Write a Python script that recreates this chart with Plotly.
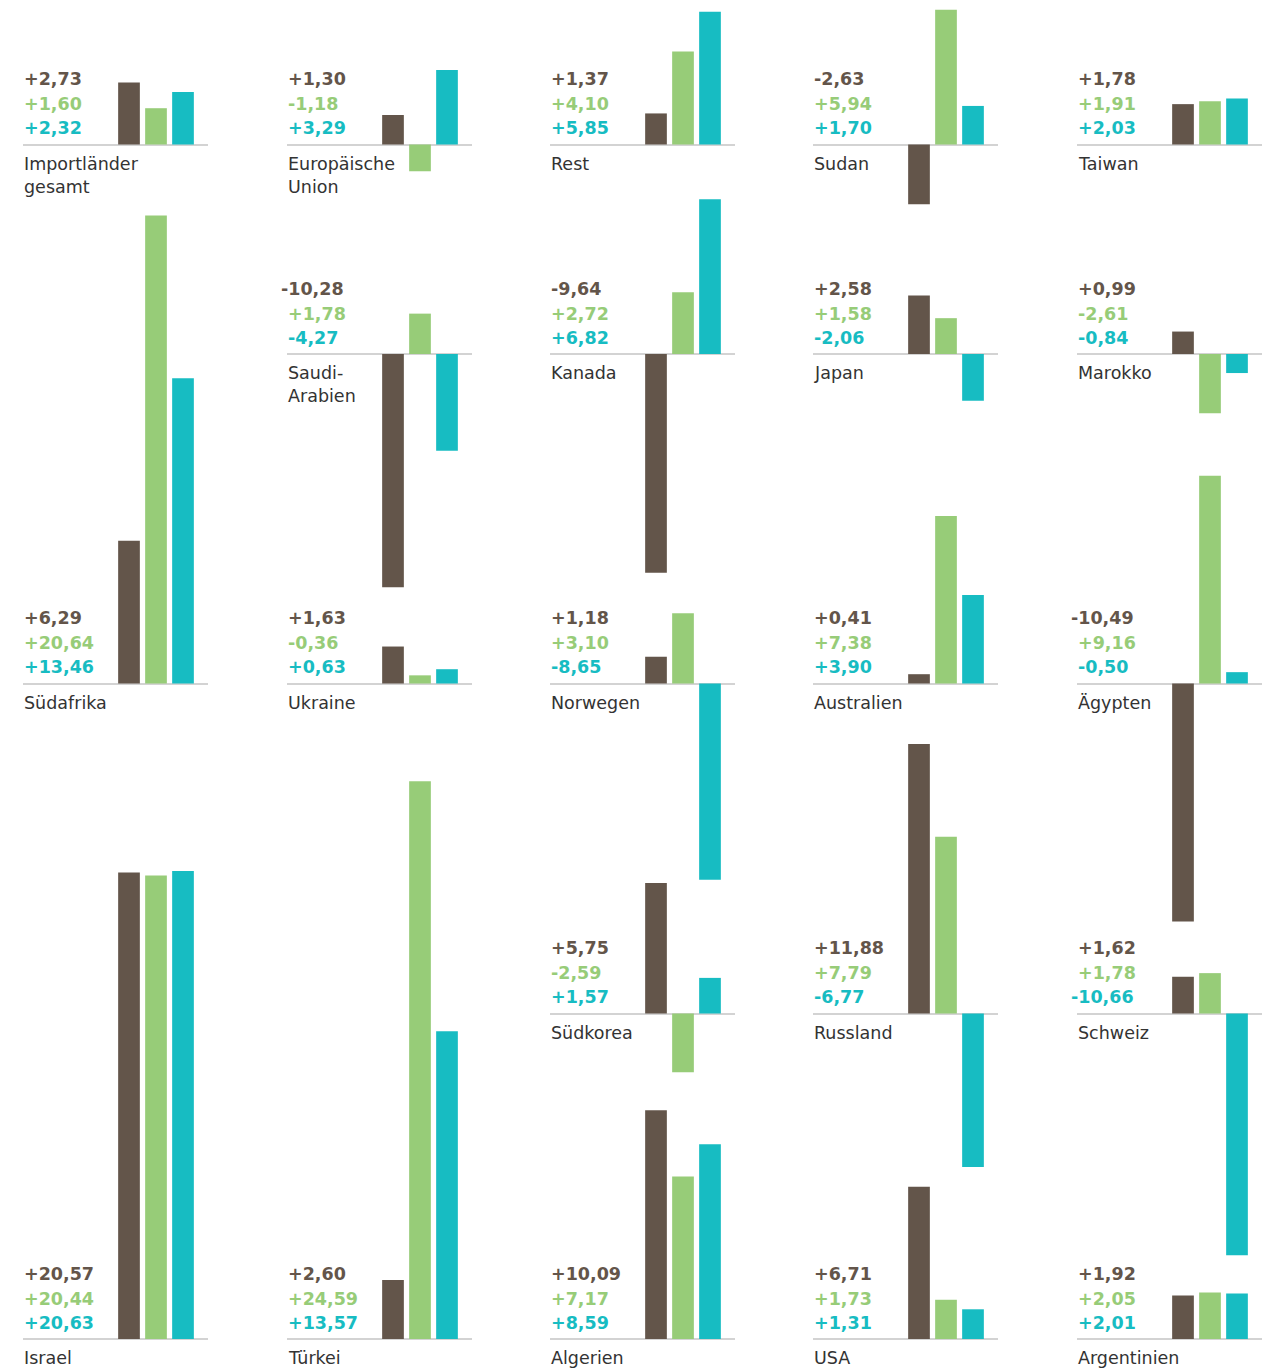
import plotly.graph_objects as go

# data: printed change values per country (three series)
countries = [
    "Importländer<br>gesamt", "Europäische<br>Union", "Rest", "Sudan", "Taiwan",
    "Saudi-<br>Arabien", "Kanada", "Japan", "Marokko",
    "Südafrika", "Ukraine", "Norwegen", "Australien", "Ägypten",
    "Südkorea", "Russland", "Schweiz",
    "Israel", "Türkei", "Algerien", "USA", "Argentinien",
]
brown = [2.73, 1.30, 1.37, -2.63, 1.78,
         -10.28, -9.64, 2.58, 0.99,
         6.29, 1.63, 1.18, 0.41, -10.49,
         5.75, 11.88, 1.62,
         20.57, 2.60, 10.09, 6.71, 1.92]
green = [1.60, -1.18, 4.10, 5.94, 1.91,
         1.78, 2.72, 1.58, -2.61,
         20.64, -0.36, 3.10, 7.38, 9.16,
         -2.59, 7.79, 1.78,
         20.44, 24.59, 7.17, 1.73, 2.05]
teal = [2.32, 3.29, 5.85, 1.70, 2.03,
        -4.27, 6.82, -2.06, -0.84,
        13.46, 0.63, -8.65, 3.90, -0.50,
        1.57, -6.77, -10.66,
        20.63, 13.57, 8.59, 1.31, 2.01]
# bar heights as drawn in the source (two tiny negatives are drawn upward there)
green_bar = [1.60, -1.18, 4.10, 5.94, 1.91,
             1.78, 2.72, 1.58, -2.61,
             20.64, 0.36, 3.10, 7.38, 9.16,
             -2.59, 7.79, 1.78,
             20.44, 24.59, 7.17, 1.73, 2.05]
teal_bar = [2.32, 3.29, 5.85, 1.70, 2.03,
            -4.27, 6.82, -2.06, -0.84,
            13.46, 0.63, -8.65, 3.90, 0.50,
            1.57, -6.77, -10.66,
            20.63, 13.57, 8.59, 1.31, 2.01]

# layout: (column, row) slot of each panel
slots = [(0, 0), (1, 0), (2, 0), (3, 0), (4, 0),
         (1, 1), (2, 1), (3, 1), (4, 1),
         (0, 2), (1, 2), (2, 2), (3, 2), (4, 2),
         (2, 3), (3, 3), (4, 3),
         (0, 4), (1, 4), (2, 4), (3, 4), (4, 4)]

W, H = 1277, 1371
col_left = [23, 287, 550, 813, 1077]
panel_w = 185
row_base = [144.5, 354, 683.5, 1013.5, 1339]
px_per_unit = 22.68
bar_step = 27.0
first_bar = 106.0

C_BROWN = "#63554a"
C_GREEN = "#97cc78"
C_TEAL = "#17bcc2"
C_TEXT = "#333333"
NUM_FONT = "DejaVu Sans"


def fmt(v):
    return f"{v:+.2f}".replace(".", ",")


fig = go.Figure()
layout = {}
annotations = []

for i, name in enumerate(countries):
    k = i + 1
    col, row = slots[i]
    left = col_left[col]
    base = row_base[row]

    xa = "x" if k == 1 else f"x{k}"
    ya = "y" if k == 1 else f"y{k}"
    fig.add_trace(go.Bar(
        x=[0, 1, 2],
        y=[brown[i], green_bar[i], teal_bar[i]],
        marker=dict(color=[C_BROWN, C_GREEN, C_TEAL], line=dict(width=0)),
        width=21.7 / bar_step,
        xaxis=xa, yaxis=ya,
        showlegend=False, hoverinfo="skip",
    ))

    x0 = -first_bar / bar_step
    x1 = (panel_w - first_bar) / bar_step
    layout[f"xaxis{k}"] = dict(
        domain=[left / W, (left + panel_w) / W], range=[x0, x1],
        visible=False, fixedrange=True, anchor=ya,
    )
    layout[f"yaxis{k}"] = dict(
        domain=[0, 1], range=[-(H - base) / px_per_unit, base / px_per_unit],
        showgrid=False, showticklabels=False, showline=False, ticks="",
        zeroline=True, zerolinecolor="#d3d3d3", zerolinewidth=2,
        fixedrange=True, anchor=xa,
    )

    # value labels, three lines stacked above the baseline
    for vals, color, up in ((brown, C_BROWN, 65.5), (green, C_GREEN, 40.5), (teal, C_TEAL, 16.5)):
        v = vals[i]
        shift = -7 if v <= -10 else 0
        annotations.append(dict(
            text=fmt(v), xref=f"{xa} domain", yref=ya, x=0, y=0,
            xanchor="left", yanchor="middle", xshift=-1 + shift, yshift=up,
            showarrow=False, font=dict(family=NUM_FONT, size=17.5, color=color, weight="bold"),
        ))

    # country name below the baseline
    annotations.append(dict(
        text=name, xref=f"{xa} domain", yref=ya, x=0, y=0,
        xanchor="left", yanchor="top", xshift=-1, yshift=-7, align="left",
        showarrow=False, font=dict(family=NUM_FONT, size=17.5, color=C_TEXT),
    ))

fig.update_layout(
    width=W, height=H,
    margin=dict(l=0, r=0, t=0, b=0, pad=0),
    paper_bgcolor="white", plot_bgcolor="rgba(0,0,0,0)",
    annotations=annotations,
    **layout,
)

fig.write_html("out.html", config={"displayModeBar": False},
               post_script="document.body.style.margin='0';")
